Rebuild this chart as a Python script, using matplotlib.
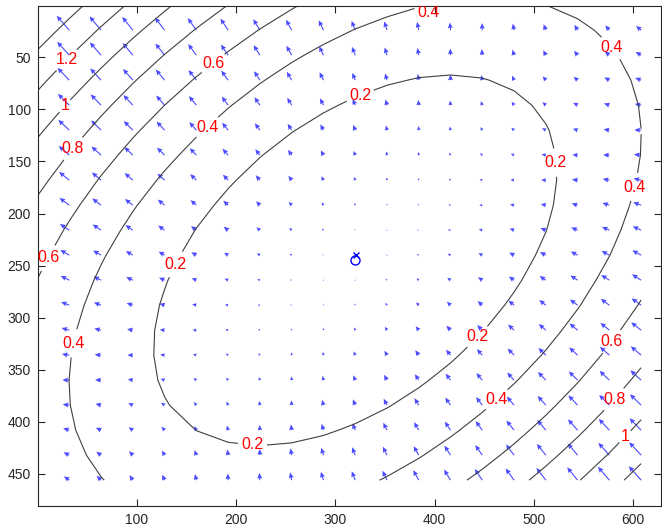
import numpy as np
import matplotlib
matplotlib.use("Agg")
import matplotlib.pyplot as plt

plt.rcParams['font.family'] = ['Liberation Sans', 'DejaVu Sans']

# quadratic error surface, coefficients
center_x = 320
center_y = 245
coef_xx = 6.2e-6
coef_xy = 3.35e-6
coef_yy = 8.1e-6
levels = [0.2, 0.4, 0.6, 0.8, 1.0, 1.2, 1.4]

# sample grid (every 32 px across, 24 px down), used for contours and arrows
grid_x = np.arange(0, 609, 32)
grid_y = np.arange(0, 457, 24)
arrow_gain = 2500

# where the contour labels sit
label_x = [23, 23, 35, 22, 39, 144, 171, 166, 325, 398, 589, 523, 595, 446, 577, 466, 584, 595, 217]
label_y = [47, 93, 137, 248, 325, 251, 49, 112, 87, 10, 33, 151, 173, 321, 322, 382, 381, 417, 418]

# the two markers at the minimum
circle_pt = (320, 245)
cross_pt = (321, 240)

xticks = [100, 200, 300, 400, 500, 600]
yticks = [50, 100, 150, 200, 250, 300, 350, 400, 450]


def surface(x, y):
    dx = x - center_x
    dy = y - center_y
    return coef_xx * dx**2 + 2 * coef_xy * dx * dy + coef_yy * dy**2


def gradient(x, y):
    dx = x - center_x
    dy = y - center_y
    gx = 2 * (coef_xx * dx + coef_xy * dy)
    gy = 2 * (coef_xy * dx + coef_yy * dy)
    return gx, gy


fig = plt.figure(figsize=(6.62, 5.27), dpi=100)
ax = fig.add_axes([38 / 662, 21.3 / 527, 623 / 662, 500 / 527])

GX, GY = np.meshgrid(grid_x, grid_y)

# contours on the coarse grid
cs = ax.contour(GX, GY, surface(GX, GY), levels=levels, colors='0.25', linewidths=0.8)
ax.clabel(cs, manual=list(zip(label_x, label_y)), inline=True, fmt='%g',
          colors='red', fontsize=11.5, inline_spacing=4)
for t in cs.labelTexts:
    t.set_rotation(0)
    px, py = t.get_position()
    if py < 7:  # keep the label at the top edge inside the frame
        t.set_position((px, 7))

# arrows
gx, gy = gradient(GX, GY)
u = -np.abs(gx) * arrow_gain
v = -np.abs(gy) * arrow_gain
ax.quiver(GX, GY, u, v, angles='xy', scale_units='xy', scale=1,
          color='blue', alpha=0.7, width=0.0018, headwidth=4.5,
          headlength=5, headaxislength=4.5)

ax.plot(circle_pt[0], circle_pt[1], 'o', mfc='none', mec='blue', ms=6.5, mew=1)
ax.plot(cross_pt[0], cross_pt[1], 'x', color='blue', ms=5, mew=1)

ax.set_xlim(0.5, 628)
ax.set_ylim(480.5, 0.5)
ax.set_xticks(xticks)
ax.set_yticks(yticks)
ax.tick_params(direction='in', top=True, right=True, length=5, width=0.8,
               labelsize=10, pad=5, colors='0.15')
for s in ax.spines.values():
    s.set_color('0.15')
    s.set_linewidth(0.8)

fig.savefig('out.png', dpi=100)
